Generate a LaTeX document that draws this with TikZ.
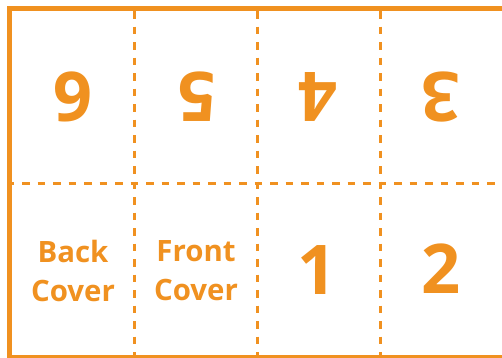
\documentclass[tikz,border=0pt]{standalone}
\usepackage{fontspec}
\setmainfont{Open Sans}
\definecolor{pageorange}{RGB}{240,145,32}
\begin{document}
\begin{tikzpicture}[x=1pt,y=-1pt,
  frame/.style={draw=pageorange,line width=5pt},
  fold/.style={draw=pageorange,line width=3pt,dash pattern=on 7.5pt off 8pt},
  bignum/.style={text=pageorange,inner sep=0pt,font=\fontsize{68.6}{70}\selectfont\bfseries},
  label/.style={text=pageorange,inner sep=0pt,align=center,font=\fontsize{29.4}{39}\selectfont\bfseries}]
\useasboundingbox (0,0) rectangle (502,357);
\begin{scope}
\clip (0,0) rectangle (502,357);
% fold lines
\coordinate (v1t) at (134,11); \coordinate (v1b) at (134,355);
\coordinate (v2t) at (257,11); \coordinate (v2b) at (257,355);
\coordinate (v3t) at (380,11); \coordinate (v3b) at (380,355);
\coordinate (hl) at (12,183); \coordinate (hr) at (510,183);
\draw[fold,dash phase=5.3pt] (hl) -- (hr);
\draw[fold] (v1t) -- (v1b);
\draw[fold] (v2t) -- (v2b);
\draw[fold] (v3t) -- (v3b);
% frame
\coordinate (ftl) at (9.5,8.5); \coordinate (fbr) at (506,357.5);
\draw[frame] (ftl) rectangle (fbr);
\end{scope}
% page numbers
\node[bignum,rotate=180] (p6) at (73,97) {6};
\node[bignum,rotate=180] (p5) at (197,97) {5};
\node[bignum,rotate=180] (p4) at (318,97) {4};
\node[bignum,rotate=180] (p3) at (441,97) {3};
\node[bignum] (p1) at (317,270) {1};
\node[bignum] (p2) at (441,269) {2};
\node[label] (back) at (73,271) {Back\\Cover};
\node[label] (front) at (196,271) {Front\\Cover};
\end{tikzpicture}
\end{document}
